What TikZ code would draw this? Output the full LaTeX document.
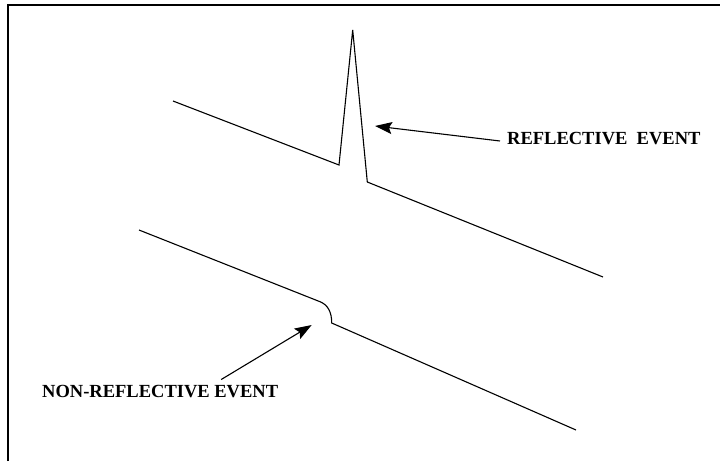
\documentclass[tikz,border=0pt]{standalone}
\usepackage{fontspec}
\setmainfont{Liberation Serif}
\usetikzlibrary{arrows.meta,positioning}

\begin{document}
\begin{tikzpicture}[x=1pt,y=-1pt,
  trace/.style={draw=black,line width=1.1pt,line join=miter},
  frame/.style={draw=black,line width=1.6pt},
  label/.style={font=\fontsize{18.5}{21}\selectfont\bfseries,inner sep=0pt},
  pointer/.style={-{Stealth[length=17pt,width=12pt,inset=3pt]},line width=1.1pt,draw=black}]
\useasboundingbox (0,0) rectangle (720,461);
\draw[frame](8,461)--(8,5)--(720,5);
% reflective event trace
\coordinate(ra) at (173,101);\coordinate(rb) at (339,165);\coordinate(rpeak) at (352.7,30);
\coordinate(rc) at (367.3,182);\coordinate(rd) at (603,277);
\draw[trace](ra)--(rb)--(rpeak)--(rc)--(rd);
% non-reflective event trace
\coordinate(na) at (139,230);\coordinate(nb) at (320,301.7);\coordinate(nc) at (331.7,323);
\coordinate(nd) at (576,430);
\draw[trace](na)--(nb) .. controls (328,305) and (331.7,312) .. (nc)--(nd);
% labels
\node[label,anchor=west](refl) at (507,139){REFLECTIVE\ \ EVENT};
\node[label,anchor=west](nonrefl) at (42,392){NON-REFLECTIVE EVENT};
\coordinate(refltip) at (375,126);\coordinate(nonrefltip) at (311.7,325);
\draw[pointer]([xshift=-7pt,yshift=-2pt]refl.west)--(refltip);
\draw[pointer]([xshift=61pt,yshift=6pt]nonrefl.north)--(nonrefltip);
\end{tikzpicture}
\end{document}
